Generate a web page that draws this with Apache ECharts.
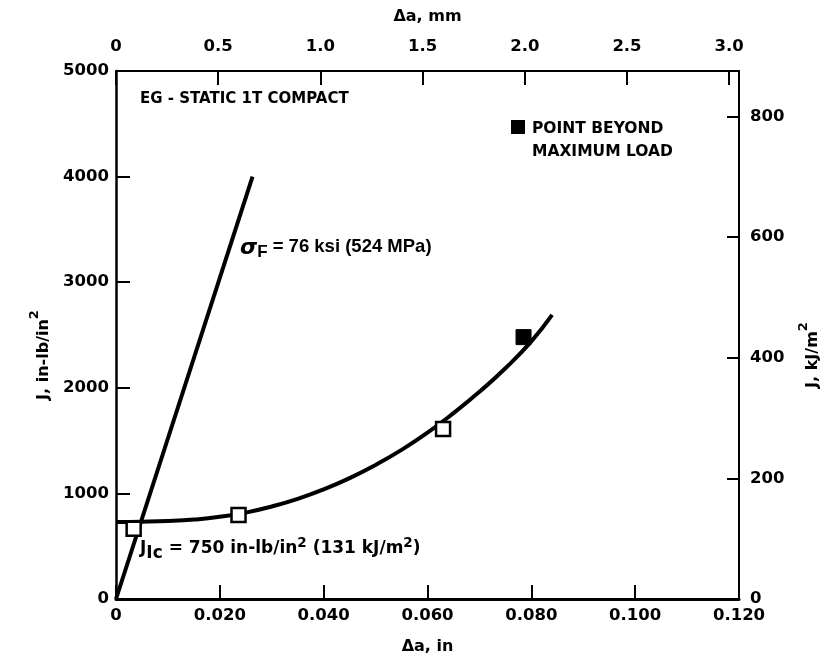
<!DOCTYPE html>
<html>
<head>
<meta charset="utf-8">
<script src="https://cdn.jsdelivr.net/npm/echarts@6/dist/echarts.min.js"></script>
<style>
  html, body { margin: 0; padding: 0; background: #ffffff; }
  #chart { width: 829px; height: 661px; }
</style>
</head>
<body>
<div id="chart"></div>
<script>
// ---- data ----
const xTicksIn = [0, 0.020, 0.040, 0.060, 0.080, 0.100, 0.120];   // Δa, in
const xTicksMm = [0, 0.5, 1.0, 1.5, 2.0, 2.5, 3.0];               // Δa, mm
const yTicksJ = [0, 1000, 2000, 3000, 4000, 5000];                // in-lb/in²
const yTicksKJ = [0, 200, 400, 600, 800];                         // kJ/m²

// blunting line σF = 76 ksi
const bluntX = [0, 0.0263];
const bluntJ = [0, 4000];

// fitted resistance curve
const curveX = [0, 0.005, 0.010, 0.015, 0.020, 0.025, 0.030, 0.035, 0.040, 0.045, 0.050, 0.055, 0.060, 0.065, 0.070, 0.075, 0.080, 0.084];
const curveJ = [730, 732, 738, 752, 778, 818, 876, 948, 1038, 1145, 1270, 1412, 1575, 1760, 1962, 2185, 2440, 2690];

// measured points
const openX = [0.0034, 0.0236, 0.0630];
const openJ = [665, 795, 1610];
const filledX = [0.0785];
const filledJ = [2480];

// ---- conversions ----
const IN_TO_MM = 25.4;
const JIN_TO_KJM2 = 0.175127;

const FONT = 'DejaVu Sans';
const FONT2 = 'Liberation Sans';
const FS = 16.5;
const pair = (xs, ys) => xs.map((x, i) => [x, ys[i]]);

const chart = echarts.init(document.getElementById('chart'), null, { renderer: 'canvas' });

const baseLabel = { color: '#000', fontFamily: FONT, fontWeight: 'bold', fontSize: FS };
const supRich = {
  a: { color: '#000', fontFamily: FONT, fontWeight: 'bold', fontSize: 16, lineHeight: 24, verticalAlign: 'bottom' },
  s: { color: '#000', fontFamily: FONT, fontWeight: 'bold', fontSize: 13, lineHeight: 12, verticalAlign: 'top' }
};

const xMin = xTicksIn[0], xMax = xTicksIn[xTicksIn.length - 1];
const yMin = yTicksJ[0], yMax = yTicksJ[yTicksJ.length - 1];

const option = {
  backgroundColor: '#ffffff',
  animation: false,
  grid: { left: 116, right: 83, top: 71, bottom: 62, containLabel: false },
  xAxis: [
    {
      type: 'value', position: 'bottom',
      min: xMin, max: xMax, interval: xTicksIn[1] - xTicksIn[0],
      name: 'Δa, in', nameLocation: 'middle', nameGap: 40,
      nameTextStyle: Object.assign({}, baseLabel, { fontSize: 16 }),
      axisLine: { show: true, onZero: false, lineStyle: { color: '#000', width: 3 } },
      axisTick: { show: true, inside: true, length: 14, lineStyle: { color: '#000', width: 2 } },
      axisLabel: Object.assign({}, baseLabel, {
        margin: 8,
        formatter: v => v === 0 ? '0' : v.toFixed(3)
      }),
      splitLine: { show: false }
    },
    {
      type: 'value', position: 'top',
      min: 0, max: xMax * IN_TO_MM, interval: xTicksMm[1] - xTicksMm[0],
      name: 'Δa, mm', nameLocation: 'middle', nameGap: 46,
      nameTextStyle: Object.assign({}, baseLabel, { fontSize: 16 }),
      axisLine: { show: true, onZero: false, lineStyle: { color: '#000', width: 2 } },
      axisTick: { show: true, inside: true, length: 14, lineStyle: { color: '#000', width: 2 } },
      axisLabel: Object.assign({}, baseLabel, {
        margin: 16, showMaxLabel: false,
        formatter: v => v === 0 ? '0' : v.toFixed(1)
      }),
      splitLine: { show: false }
    }
  ],
  yAxis: [
    {
      type: 'value', position: 'left',
      min: yMin, max: yMax, interval: yTicksJ[1] - yTicksJ[0],
      name: '{a|J, in-lb/in}{s|2}', nameLocation: 'middle', nameGap: 64, nameRotate: 90,
      nameTextStyle: Object.assign({}, baseLabel, { rich: supRich, padding: [0, 40, 0, 0] }),
      axisLine: { show: true, onZero: false, lineStyle: { color: '#000', width: 2.5 } },
      axisTick: { show: true, inside: true, length: 14, lineStyle: { color: '#000', width: 2 } },
      axisLabel: Object.assign({}, baseLabel, { margin: 7, formatter: v => String(v) }),
      splitLine: { show: false }
    },
    {
      type: 'value', position: 'right',
      min: 0, max: yMax * JIN_TO_KJM2, interval: yTicksKJ[1] - yTicksKJ[0],
      name: '{a|J, kJ/m}{s|2}', nameLocation: 'middle', nameGap: 58, nameRotate: 90,
      nameTextStyle: Object.assign({}, baseLabel, { rich: supRich, padding: [0, 40, 0, 0] }),
      axisLine: { show: true, onZero: false, lineStyle: { color: '#000', width: 2 } },
      axisTick: { show: true, inside: true, length: 12, lineStyle: { color: '#000', width: 2 } },
      axisLabel: Object.assign({}, baseLabel, { margin: 11, showMaxLabel: false, formatter: v => String(v) }),
      splitLine: { show: false }
    }
  ],
  series: [
    {
      name: 'blunting', type: 'line', xAxisIndex: 0, yAxisIndex: 0,
      data: pair(bluntX, bluntJ), showSymbol: false, symbol: 'none',
      lineStyle: { color: '#000', width: 4 }, z: 3
    },
    {
      name: 'R-curve', type: 'line', xAxisIndex: 0, yAxisIndex: 0,
      data: pair(curveX, curveJ), smooth: 0.5, showSymbol: false, symbol: 'none',
      lineStyle: { color: '#000', width: 4 }, z: 3
    },
    {
      name: 'points', type: 'scatter', xAxisIndex: 0, yAxisIndex: 0,
      data: pair(openX, openJ), symbol: 'rect', symbolSize: 14,
      itemStyle: { color: '#fff', borderColor: '#000', borderWidth: 2.5, opacity: 1 }, z: 5
    },
    {
      name: 'POINT BEYOND MAXIMUM LOAD', type: 'scatter', xAxisIndex: 0, yAxisIndex: 0,
      data: pair(filledX, filledJ), symbol: 'rect', symbolSize: 15,
      itemStyle: { color: '#000', borderColor: '#000', borderWidth: 1, opacity: 1 }, z: 5
    }
  ],
  graphic: [
    {
      type: 'text', left: 140, top: 92, z: 10,
      style: { text: 'EG - STATIC 1T COMPACT', fill: '#000', font: 'bold 15px "' + FONT + '"' }
    },
    {
      type: 'rect', left: 511, top: 120, z: 10,
      shape: { width: 14, height: 14 }, style: { fill: '#000' }
    },
    {
      type: 'text', left: 532, top: 117, z: 10,
      style: { text: 'POINT BEYOND\nMAXIMUM LOAD', fill: '#000', font: 'bold 15.5px "' + FONT + '"', lineHeight: 23 }
    },
    {
      type: 'text', left: 240, top: 237, z: 10,
      style: {
        text: '{g|σ}{f|F}{t| = 76 ksi (524 MPa)}',
        rich: {
          g: { fill: '#000', fontFamily: 'DejaVu Sans', fontWeight: 'bold', fontStyle: 'italic', fontSize: 22, lineHeight: 24, verticalAlign: 'top' },
          f: { fill: '#000', fontFamily: FONT2, fontWeight: 'bold', fontSize: 17, lineHeight: 14, verticalAlign: 'bottom' },
          t: { fill: '#000', fontFamily: FONT2, fontWeight: 'bold', fontSize: 18.5, lineHeight: 24, verticalAlign: 'top' }
        }
      }
    },
    {
      type: 'text', left: 140, top: 536, z: 10,
      style: {
        text: '{t|J}{b|Ic}{t| = 750 in-lb/in}{s|2}{t| (131 kJ/m}{s|2}{t|)}',
        rich: {
          t: { fill: '#000', fontFamily: FONT, fontWeight: 'bold', fontSize: 17, lineHeight: 26, verticalAlign: 'middle' },
          b: { fill: '#000', fontFamily: FONT, fontWeight: 'bold', fontSize: 17, lineHeight: 16, verticalAlign: 'bottom' },
          s: { fill: '#000', fontFamily: FONT, fontWeight: 'bold', fontSize: 13.5, lineHeight: 12, verticalAlign: 'top' }
        }
      }
    }
  ]
};

chart.setOption(option);
</script>
</body>
</html>
